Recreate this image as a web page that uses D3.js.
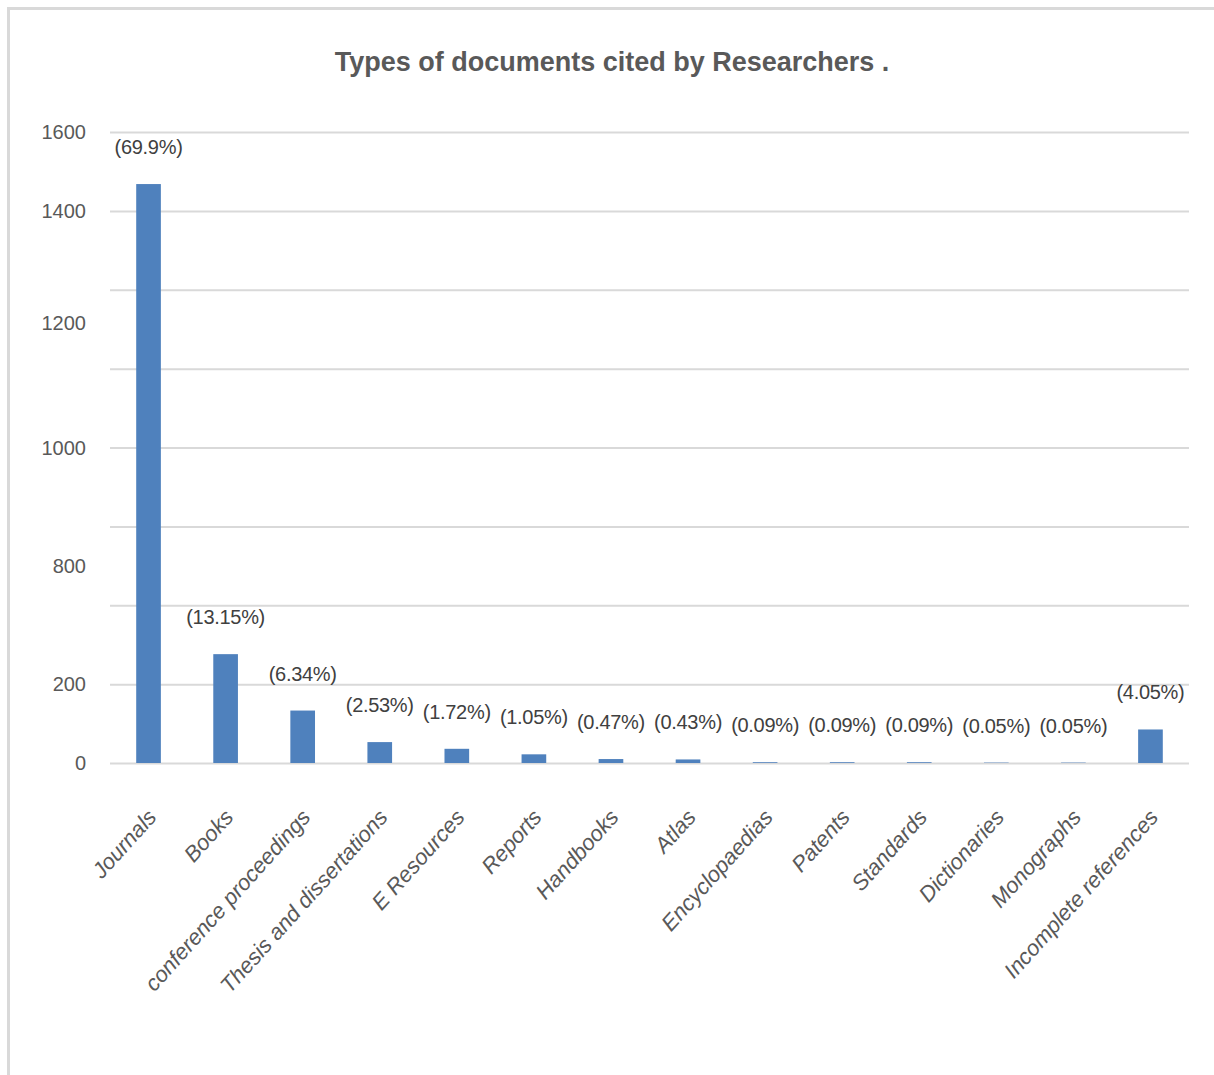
<!DOCTYPE html>
<html>
<head>
<meta charset="utf-8">
<script src="https://cdn.jsdelivr.net/npm/d3@7"></script>
<style>
  body { margin: 0; background: #fff; }
  text { font-family: "Liberation Sans", Arial, sans-serif; }
</style>
</head>
<body>
<svg id="chart"></svg>
<script>
// chart values
const categories = ["Journals", "Books", "conference proceedings", "Thesis and dissertations",
    "E Resources", "Reports", "Handbooks", "Atlas", "Encyclopaedias", "Patents",
    "Standards", "Dictionaries", "Monographs", "Incomplete references"];
const counts = [1468, 276, 133, 53, 36, 22, 10, 9, 2, 2, 2, 1, 1, 85];
const percentLabels = ["(69.9%)", "(13.15%)", "(6.34%)", "(2.53%)", "(1.72%)", "(1.05%)", "(0.47%)",
    "(0.43%)", "(0.09%)", "(0.09%)", "(0.09%)", "(0.05%)", "(0.05%)", "(4.05%)"];
const gridValues = [0, 200, 400, 600, 800, 1000, 1200, 1400, 1600];
// the y labels in the source sit at odd places; these are the values they line up with
const tickLabels = ["0", "200", "800", "1000", "1200", "1400", "1600"];
const tickLabelAt = [0, 200, 500, 800, 1115, 1400, 1600];

const config = {
    width: 1214, height: 1075,
    margin: {top: 132, right: 25, bottom: 312, left: 110}
};

const svg = d3.select('#chart')
    .attr('width', config.width)
    .attr('height', config.height);

// outer chart frame (only top and left edges show)
svg.append('rect')
    .attr('x', 8.5).attr('y', 8.5)
    .attr('width', config.width + 20).attr('height', config.height + 20)
    .attr('fill', 'none')
    .attr('stroke', '#d9d9d9')
    .attr('stroke-width', 3);

const innerW = config.width - config.margin.left - config.margin.right;
const innerH = config.height - config.margin.top - config.margin.bottom;

const chart = svg.append('g')
    .attr('transform', `translate(${config.margin.left}, ${config.margin.top})`);

const xScale = d3.scaleBand()
    .domain(categories)
    .range([0, innerW])
    .paddingInner(0.68)
    .paddingOuter(0.34);

const yScale = d3.scaleLinear()
    .domain([0, 1600])
    .range([innerH, 0]);

// gridlines
const grid = chart.append('g')
    .attr('class', 'grid')
    .call(d3.axisLeft(yScale).tickValues(gridValues).tickSize(-innerW).tickFormat(''));
grid.select('.domain').remove();
grid.selectAll('.tick line')
    .attr('stroke', '#d9d9d9')
    .attr('stroke-width', 2);

// y labels
chart.selectAll('.ylabel')
    .data(tickLabels)
    .join('text')
    .attr('class', 'ylabel')
    .attr('x', -24)
    .attr('y', (d, i) => yScale(tickLabelAt[i]))
    .attr('dy', '0.35em')
    .attr('text-anchor', 'end')
    .attr('font-size', 20)
    .attr('fill', '#595959')
    .text(d => d);

// bars
chart.selectAll('.bar')
    .data(categories)
    .join('rect')
    .attr('class', 'bar')
    .attr('x', d => xScale(d))
    .attr('width', xScale.bandwidth())
    .attr('y', (d, i) => yScale(counts[i]))
    .attr('height', (d, i) => innerH - yScale(counts[i]))
    .attr('fill', '#4f81bd');

// percentage labels
chart.selectAll('.plabel')
    .data(categories)
    .join('text')
    .attr('class', 'plabel')
    .attr('x', d => xScale(d) + xScale.bandwidth() / 2)
    .attr('y', (d, i) => yScale(counts[i]) - 37)
    .attr('dy', '0.35em')
    .attr('text-anchor', 'middle')
    .attr('font-size', 20)
    .attr('letter-spacing', -0.3)
    .attr('fill', '#404040')
    .text((d, i) => percentLabels[i]);

// x axis labels, rotated
chart.selectAll('.xlabel')
    .data(categories)
    .join('text')
    .attr('class', 'xlabel')
    .attr('transform', d => `translate(${xScale(d) + xScale.bandwidth() / 2 + 9}, ${innerH + 55}) rotate(-48)`)
    .attr('text-anchor', 'end')
    .attr('font-size', 22)
    .attr('font-style', 'italic')
    .attr('fill', '#595959')
    .text(d => d);

// title
svg.append('text')
    .attr('x', 612)
    .attr('y', 62)
    .attr('dy', '0.35em')
    .attr('text-anchor', 'middle')
    .attr('font-size', 27)
    .attr('font-weight', 'bold')
    .attr('fill', '#595959')
    .text('Types of documents cited by Researchers .');
</script>
</body>
</html>
